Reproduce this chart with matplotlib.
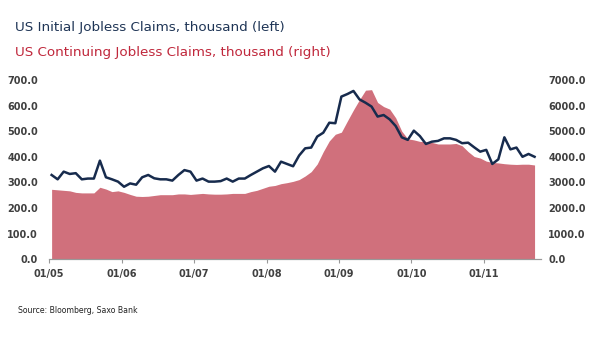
#!/usr/bin/env python3
import numpy as np
import matplotlib.pyplot as plt

# Monthly data, Jan 2005 - Sep 2011 (thousand)
initial_claims = [329, 312, 342, 333, 336, 312, 315, 315, 385, 320, 312, 303,
                  283, 296, 291, 320, 329, 316, 312, 312, 307, 329, 348, 342,
                  307, 315, 303, 303, 305, 315, 303, 315, 315, 329, 342, 355,
                  364, 342, 381, 372, 363, 405, 433, 436, 479, 494, 533, 531,
                  635, 645, 657, 624, 611, 596, 557, 563, 546, 520, 476, 466,
                  502, 481, 450, 459, 462, 472, 472, 466, 453, 455, 437, 420,
                  427, 372, 390, 476, 429, 436, 400, 411, 400]
continuing_claims = [2730, 2710, 2690, 2670, 2610, 2590, 2590, 2590, 2810, 2740, 2640, 2670,
                     2610, 2530, 2460, 2450, 2460, 2490, 2520, 2520, 2520, 2550, 2550, 2530,
                     2550, 2570, 2550, 2540, 2540, 2550, 2570, 2570, 2570, 2640, 2690, 2770,
                     2850, 2880, 2950, 2990, 3040, 3110, 3250, 3420, 3720, 4200, 4620, 4880,
                     4960, 5400, 5830, 6230, 6600, 6620, 6120, 5960, 5860, 5520, 5000, 4700,
                     4660, 4600, 4590, 4560, 4500, 4500, 4500, 4520, 4430, 4200, 4010, 3950,
                     3830, 3780, 3760, 3730, 3710, 3700, 3710, 3710, 3680]
year_labels = ['01/05', '01/06', '01/07', '01/08', '01/09', '01/10', '01/11']

x = np.arange(len(initial_claims)) + 0.4

fig = plt.figure(figsize=(6, 3.38), dpi=100)
ax = fig.add_axes([0.082, 0.233, 0.82, 0.5305])
ax2 = ax.twinx()

# continuing claims as filled area on the right axis (drawn below the line)
ax2.fill_between(x, continuing_claims, 0, color='#d0707c', linewidth=0)
ax2.set_ylim(0, 7000)
ax2.set_yticks(np.arange(0, 7001, 1000))
ax2.set_yticklabels([f'{v:.1f}' for v in np.arange(0, 7001, 1000)])

ax.set_zorder(ax2.get_zorder() + 1)
ax.patch.set_visible(False)
ax.plot(x, initial_claims, color='#172b4d', linewidth=1.8)
ax.set_ylim(0, 700)
ax.set_yticks(np.arange(0, 701, 100))
ax.set_yticklabels([f'{v:.1f}' for v in np.arange(0, 701, 100)])
ax.set_xlim(0, 81.5)
ax.set_xticks(np.arange(0, 12 * len(year_labels), 12))
ax.set_xticklabels(year_labels)

for a in (ax, ax2):
    for s in ('top', 'left', 'right'):
        a.spines[s].set_visible(False)
    a.spines['bottom'].set_color('#999999')
    a.tick_params(axis='y', length=0, labelsize=7, labelcolor='#404040')
    for lbl in a.get_yticklabels():
        lbl.set_fontweight('bold')
ax.tick_params(axis='y', pad=8)
ax2.tick_params(axis='y', pad=5)
ax.tick_params(axis='x', length=3, color='#999999', labelsize=7, labelcolor='#404040', pad=4)
for lbl in ax.get_xticklabels():
    lbl.set_fontweight('bold')

fig.text(0.025, 0.92, 'US Initial Jobless Claims, thousand (left)', color='#1f3556',
         fontsize=9.7, va='center', ha='left')
fig.text(0.025, 0.846, 'US Continuing Jobless Claims, thousand (right)', color='#c0283c',
         fontsize=9.7, va='center', ha='left')
fig.text(0.03, 0.08, 'Source: Bloomberg, Saxo Bank', color='#222222', fontsize=5.6,
         va='center', ha='left')

fig.savefig('out.png', dpi=100)
